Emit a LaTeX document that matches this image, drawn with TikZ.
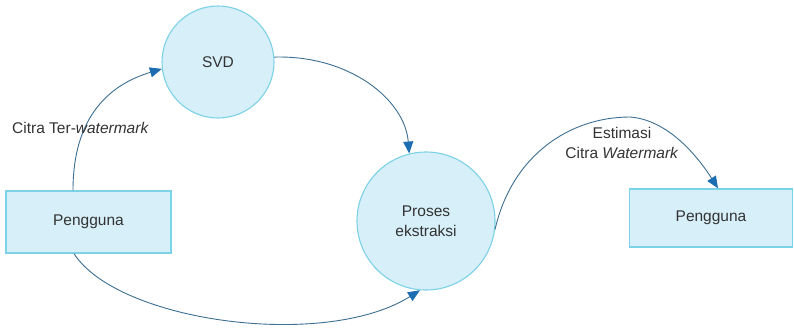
\documentclass[tikz,border=0pt]{standalone}
\usepackage{fontspec}
\setmainfont{Liberation Sans}
\usetikzlibrary{arrows.meta}
\definecolor{boxfill}{HTML}{D6EFF8}
\definecolor{boxline}{HTML}{7CD2E6}
\definecolor{flowline}{HTML}{3D6F92}
\definecolor{flowtip}{HTML}{1C6DB2}
\definecolor{txt}{HTML}{333333}
\tikzset{
  entity/.style={draw=boxline, fill=boxfill, line width=1.3pt, rectangle,
    inner sep=0pt, font=\fontsize{15.5}{19.5}\selectfont, text=txt},
  process/.style={draw=boxline, fill=boxfill, line width=1.1pt, circle,
    inner sep=0pt, align=center, font=\fontsize{15.5}{20}\selectfont, text=txt},
  flow/.style={draw=flowline, line width=0.9pt,
    -{Triangle[length=12pt,width=10pt,color=flowtip]}},
  lbl/.style={inner sep=0pt, text=txt, font=\fontsize{15.5}{20}\selectfont}
}
\begin{document}
\begin{tikzpicture}[x=1pt,y=-1pt]
  \useasboundingbox (0,0) rectangle (794,327);
  \fill[white] (0,0) rectangle (794,327);

  % entities and processes
  \node[entity, minimum width=165pt, minimum height=62pt] (src) at (88.5,222) {Pengguna};
  \node[entity, minimum width=163pt, minimum height=58pt] (dst) at (711,218) {Pengguna};
  \node[process, minimum size=112pt] (svd) at (218,62) {SVD};
  \node[process, minimum size=138pt] (ext) at (426,221) {Proses\\ekstraksi};

  % data flows
  \coordinate (srcTop) at ([xshift=-15.5pt]src.north);
  \coordinate (srcBot) at ([xshift=-14.5pt]src.south);
  \coordinate (dstTop) at ([xshift=7pt]dst.north);
  \coordinate (peak) at (630,117);

  \draw[flow] (srcTop) .. controls (73,118) and (108,85) .. (svd.187);
  \draw[flow] (svd.5) .. controls (350,55) and (405,100) .. (ext.104);
  \draw[flow] (srcBot) .. controls (118,322) and (325,350) .. (ext.265);
  \draw[flow] (ext.-7) .. controls (512,155) and (570,117) .. (peak)
                      .. controls (670,120) and (700,160) .. (dstTop);

  % flow labels
  \node[lbl, anchor=west] (lblA) at (12,128) {Citra Ter-\textit{watermark}};
  \node[lbl, align=center] (lblB) at (622,143) {Estimasi\\Citra \textit{Watermark}};
\end{tikzpicture}
\end{document}
